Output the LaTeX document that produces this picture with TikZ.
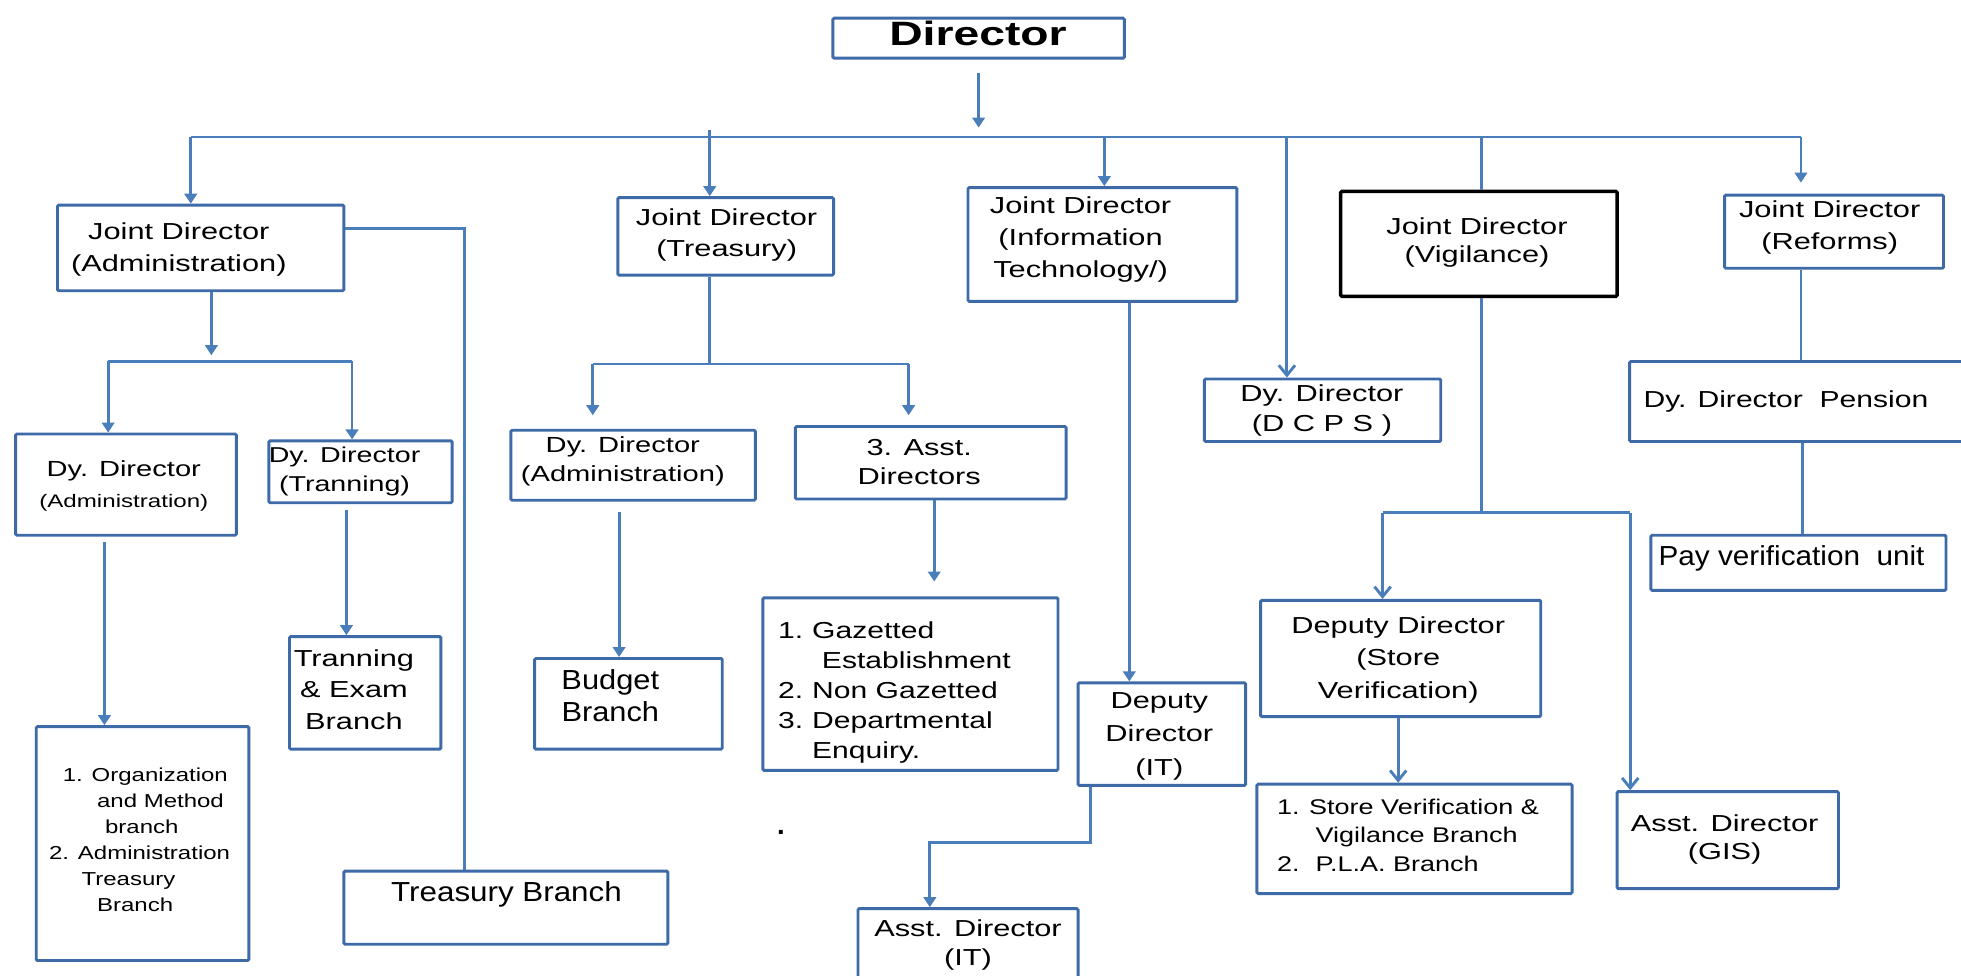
\documentclass[tikz,border=0pt]{standalone}
\usepackage{fontspec}
\setmainfont{Liberation Sans}
\usepackage{graphicx}
\usetikzlibrary{arrows.meta,calc}
\definecolor{lineblue}{RGB}{74,126,187}
\definecolor{boxblue}{RGB}{62,106,168}
\newcommand\hsc[2][1.33]{\scalebox{#1}[1]{\begin{tabular}{@{}c@{}}#2\end{tabular}}}
\newcommand\hlt[3][1.33]{\scalebox{#1}[1]{\begin{tabular}{@{}#2@{}}#3\end{tabular}}}
\newcommand\boxnode[6][]{\node[bx,#1,minimum width={(#5-#3)*1pt},minimum height={(#6-#4)*1pt}] (#2) at ({(#3+#5)/2},{(#4+#6)/2}) {};}
\begin{document}
\begin{tikzpicture}[x=1pt,y=-1pt,
  bx/.style={draw=boxblue, line width=2.3pt, fill=white, inner sep=0pt, rounded corners=1pt},
  txt/.style={inner sep=0pt, font=\fontsize{18.5}{#1}\selectfont},
  txt/.default=24.5,
  conn/.style={draw=lineblue, line width=2.3pt},
  fa/.style={-{Triangle[width=10pt,length=8pt]}},
  oa/.style={-{Straight Barb[width=13pt,length=8pt]}},
]
\fill[white] (0,0) rectangle (1568,779.6);
\useasboundingbox (0,0) rectangle (1568,779.6);

% boxes
\boxnode{dir}{666}{14.5}{899}{46.5}
\boxnode{jdadm}{46}{164}{275}{232.5}
\boxnode{jdtr}{494}{158}{666.5}{220}
\boxnode{jdit}{774}{150}{989}{241}
\boxnode[draw=black,line width=2.8pt]{jdvig}{1072}{153}{1293}{237}
\boxnode{jdref}{1379}{156}{1554}{214.5}
\boxnode{dcps}{963}{303}{1152}{353}
\boxnode{pens}{1303}{289}{1590}{353}
\boxnode{pay}{1320}{428}{1556}{472}
\boxnode{dda}{12.5}{347}{189}{428}
\boxnode{ddt}{215}{352.5}{361.5}{402}
\boxnode{org}{29}{581}{199}{768}
\boxnode{tre}{231.5}{509}{352.5}{599}
\boxnode{tb}{275}{696.5}{534}{755}
\boxnode{ddta}{408.5}{344}{604}{400}
\boxnode{aad}{636}{341}{852.5}{399}
\boxnode{bb}{427.5}{526.5}{577.5}{599}
\boxnode{gz}{610}{478}{846}{616}
\boxnode{ddit}{862}{546}{996}{628}
\boxnode{adit}{686}{726.5}{862}{800}
\boxnode{ddsv}{1008}{480}{1232}{573}
\boxnode{svb}{1005}{627}{1257}{714.5}
\boxnode{gis}{1293}{633}{1470}{710.5}

% texts
\node[inner sep=0pt, font=\fontsize{27}{30}\selectfont] (dir-t) at (782,30) {\hsc[1.37]{\bfseries Director}};
\node[txt=25.3] (jdadm-t) at (143,199) {\hsc{Joint Director\\(Administration)}};
\node[txt=25] (jdtr-t) at (581,187.5) {\hsc{Joint Director\\(Treasury)}};
\node[txt=25.7] (jdit-t) at (864,191) {\hsc{Joint Director\\(Information\\Technology/)}};
\node[txt=23] (jdvig-t) at (1181,194) {\hsc{Joint Director\\(Vigilance)}};
\node[txt=25.5] (jdref-t) at (1463,181.5) {\hsc{Joint Director\\(Reforms)}};
\node[txt=24] (dcps-t) at (1057,328) {\hsc{Dy. Director\\(D C P S )}};
\node[txt] (pens-t) at (1428,321) {\hsc[1.3]{Dy. Director~~Pension}};
\node[inner sep=0pt, font=\fontsize{22}{26}\selectfont] (pay-t) at (1432.5,446.6) {\hsc[1.08]{Pay verification~~unit}};
\node[inner sep=0pt, font=\fontsize{17.5}{25}\selectfont] (dda-t) at (99,388.5) {\hsc{Dy. Director\\{\fontsize{14.5}{18}\selectfont (Administration)}}};
\node[inner sep=0pt, font=\fontsize{17.2}{23}\selectfont] (ddt-t) at (275.5,376.5) {\hsc{Dy. Director\\(Tranning)}};
\node[txt=25.3] (tre-t) at (283,553) {\hsc{Tranning\\\& Exam\\Branch}};
\node[inner sep=0pt, font=\fontsize{22}{26}\selectfont] (tb-t) at (405,716) {\hsc[1.14]{Treasury Branch}};
\node[inner sep=0pt, font=\fontsize{17.5}{23}\selectfont] (ddta-t) at (498,368.5) {\hsc{Dy. Director\\(Administration)}};
\node[txt=23] (aad-t) at (735,371) {\hsc{3. Asst.\\Directors}};
\node[inner sep=0pt, font=\fontsize{22}{25.4}\selectfont] (bb-t) at (488,559.3) {\hsc[1.12]{Budget\\Branch}};
\node[txt=23.9, anchor=west] (gz-t) at (622,553.9) {\hlt[1.3]{l@{\hspace{5.5pt}}l}{1. & Gazetted\\ & \hspace{6pt}Establishment\\2. & Non Gazetted\\3. & Departmental\\ & Enquiry.}};
\node[inner sep=0pt, font=\fontsize{22}{24}\selectfont\bfseries] (dot) at (624.5,666) {.};
\node[txt=26.4] (ddit-t) at (927,588) {\hsc{Deputy\\Director\\(IT)}};
\node[txt=23] (adit-t) at (774,755.5) {\hsc{Asst. Director\\(IT)}};
\node[txt=26] (ddsv-t) at (1118,527) {\hsc{Deputy Director\\(Store\\Verification)}};
\node[inner sep=0pt, font=\fontsize{17}{22.7}\selectfont, anchor=west] (svb-t) at (1021,669.4) {\hlt[1.27]{l@{\hspace{6pt}}l}{1. & Store Verification \&\\ & \hspace{4pt}Vigilance Branch\\2. & \hspace{4pt}P.L.A. Branch}};
\node[txt=22.7] (gis-t) at (1379,671.5) {\hsc{Asst. Director\\(GIS)}};
\node[inner sep=0pt, font=\fontsize{15}{20.8}\selectfont, anchor=west] (org-t) at (39,673) {\hlt[1.28]{l}{\hspace{8.6pt}1. Organization\\\hspace{30pt}and Method\\\hspace{35pt}branch\\2. Administration\\\hspace{20.3pt}Treasury\\\hspace{30pt}Branch}};

% connectors from Director
\coordinate (arrD) at (782.5,102);
\draw[conn,fa,shorten <=11pt] (dir.south) -- (arrD);
\coordinate (busL) at (152.5,109.5);
\coordinate (busR) at (1440,109.5);
\draw[conn] (busL) -- (busR);
\draw[conn,fa] (busL) -- (busL |- jdadm.north);
\coordinate (bT) at (567.5,104);
\draw[conn,fa] (bT) -- (bT |- jdtr.north);
\coordinate (bI) at (883,109.5);
\draw[conn,fa] (bI) -- (bI |- jdit.north);
\coordinate (bD) at (1029,109.5);
\draw[conn,oa] (bD) -- (bD |- dcps.north);
\coordinate (bV) at (1184.5,109.5);
\draw[conn] (bV) -- (bV |- jdvig.north);
\coordinate (rT) at (1440,146);
\draw[conn,fa] (busR) -- (rT);

% JD Administration
\coordinate (a1) at (169,284);
\draw[conn,fa] (a1 |- jdadm.south) -- (a1);
\coordinate (a2L) at (86.5,289);
\coordinate (a2R) at (281.5,289);
\draw[conn] (a2L) -- (a2R);
\draw[conn,fa] (a2L) -- (a2L |- dda.north);
\draw[conn,fa] (a2R) -- (a2R |- ddt.north);
\coordinate (a3) at (371.5,183);
\draw[conn] (a3 -| jdadm.east) -- (a3) -- (a3 |- tb.north);
\coordinate (a4) at (83.5,433);
\draw[conn,fa] (a4) -- (a4 |- org.north);
\coordinate (a5) at (277,408);
\draw[conn,fa] (a5) -- (a5 |- tre.north);

% JD Treasury
\coordinate (t1) at (567.5,291);
\draw[conn] (t1 |- jdtr.south) -- (t1);
\coordinate (t1L) at (474,291);
\coordinate (t1R) at (726.5,291);
\coordinate (t2L) at (474,332);
\coordinate (t2R) at (726.5,332);
\draw[conn] (t1L) -- (t1R);
\draw[conn,fa] (t1L) -- (t2L);
\draw[conn,fa] (t1R) -- (t2R);
\coordinate (t3) at (495,409.5);
\draw[conn,fa] (t3) -- (t3 |- bb.north);
\coordinate (t4) at (747,465);
\draw[conn,fa] (t4 |- aad.south) -- (t4);

% JD IT
\coordinate (i1) at (903,241);
\draw[conn,fa] (i1 |- jdit.south) -- (i1 |- ddit.north);
\coordinate (i2) at (872,673.5);
\coordinate (i3) at (743.5,673.5);
\draw[conn,fa] (i2 |- ddit.south) -- (i2) -- (i3) -- (i3 |- adit.north);

% JD Vigilance
\coordinate (v1) at (1184.5,410);
\draw[conn] (v1 |- jdvig.south) -- (v1);
\coordinate (vL) at (1105.5,410);
\coordinate (vR) at (1303.5,410);
\draw[conn] (vL) -- (vR);
\draw[conn,oa] (vL) -- (vL |- ddsv.north);
\draw[conn,oa] (vR) -- (vR |- gis.north);
\coordinate (v2) at (1118,600);
\draw[conn,oa] (v2 |- ddsv.south) -- (v2 |- svb.north);

% JD Reforms
\coordinate (r1) at (1440,250);
\draw[conn] (r1 |- jdref.south) -- (r1 |- pens.north);
\coordinate (r2) at (1441,400);
\draw[conn] (r2 |- pens.south) -- (r2 |- pay.north);
\end{tikzpicture}
\end{document}
